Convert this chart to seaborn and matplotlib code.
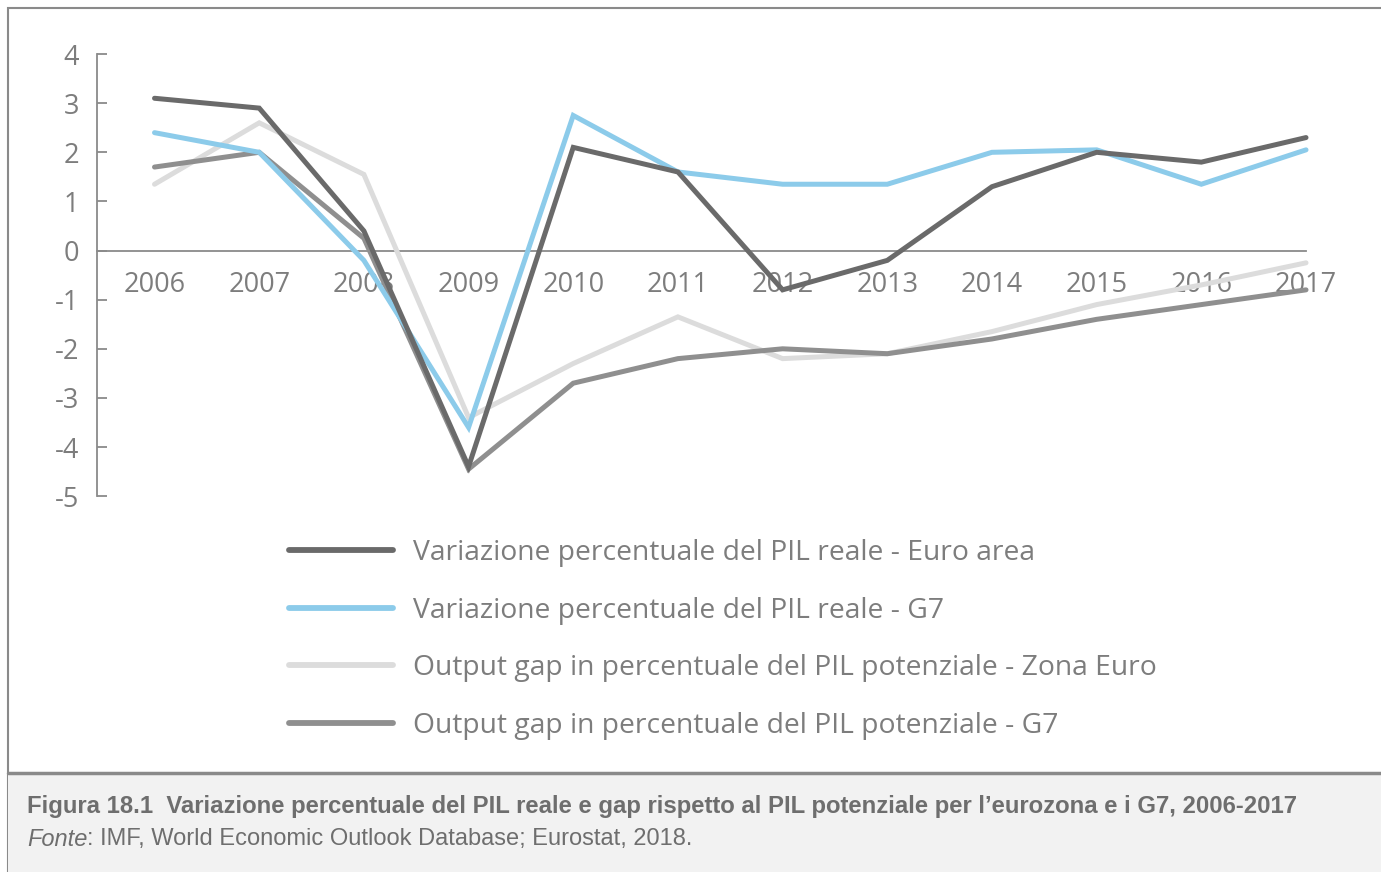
import numpy as np
import pandas as pd
import matplotlib.pyplot as plt
import seaborn as sns
from matplotlib.patches import Rectangle

years = list(range(2006, 2018))

pil_euro = [3.1, 2.9, 0.4, -4.4, 2.1, 1.6, -0.8, -0.2, 1.3, 2.0, 1.8, 2.3]
pil_g7 = [2.4, 2.0, -0.2, -3.6, 2.75, 1.6, 1.35, 1.35, 2.0, 2.05, 1.35, 2.05]
gap_euro = [1.35, 2.6, 1.55, -3.4, -2.3, -1.35, -2.2, -2.1, -1.65, -1.1, -0.7, -0.25]
gap_g7 = [1.7, 2.0, 0.25, -4.45, -2.7, -2.2, -2.0, -2.1, -1.8, -1.4, -1.1, -0.8]

labels = [
    "Variazione percentuale del PIL reale - Euro area",
    "Variazione percentuale del PIL reale - G7",
    "Output gap in percentuale del PIL potenziale - Zona Euro",
    "Output gap in percentuale del PIL potenziale - G7",
]
colors = ["#6a6a6a", "#8ccbea", "#dcdcdc", "#8f8f8f"]

caption_title = "Figura 18.1"
caption_text = "Variazione percentuale del PIL reale e gap rispetto al PIL potenziale per l\u2019eurozona e i G7, 2006-2017"
caption_source = "IMF, World Economic Outlook Database; Eurostat, 2018."

df = pd.DataFrame({
    "anno": years * 4,
    "valore": pil_euro + pil_g7 + gap_euro + gap_g7,
    "serie": [l for l in labels for _ in years],
})

sns.set_style("white")
plt.rcParams["font.family"] = ["Open Sans", "DejaVu Sans"]
plt.rcParams["axes.unicode_minus"] = False

text_col = "#7d7d7d"
fig = plt.figure(figsize=(13.81, 8.72), dpi=100)
ax = fig.add_axes([0.0702, 0.431, 0.8755, 0.507])

sns.lineplot(data=df, x="anno", y="valore", hue="serie", hue_order=labels,
             palette=colors, linewidth=3.6, ax=ax, legend=False)
# light gray below, dark on top
for line, z in zip(ax.lines, [5, 4, 2, 3]):
    line.set_zorder(z)
    line.set_clip_on(False)
    line.set_solid_joinstyle("miter")

ax.set_xlim(2005.45, 2017.0)
ax.set_ylim(-5, 4)
ax.set_xticks(years)
ax.set_yticks(range(-5, 5))
ax.set_xlabel("")
ax.set_ylabel("")

for s in ["top", "right"]:
    ax.spines[s].set_visible(False)
ax.spines["bottom"].set_position(("data", 0))
ax.spines["bottom"].set_color("#8a8a8a")
ax.spines["left"].set_color("#8a8a8a")
ax.spines["bottom"].set_linewidth(1.3)
ax.spines["left"].set_linewidth(1.3)
ax.spines["bottom"].set_zorder(1)

ax.tick_params(axis="x", direction="out", length=9, width=1.3, color="#8a8a8a",
               labelsize=19.5, labelcolor=text_col, pad=6)
ax.tick_params(axis="y", direction="in", length=7, width=1.3, color="#8a8a8a",
               labelsize=19.5, labelcolor=text_col, pad=13, left=True)

handles = [plt.Line2D([], [], color=c, linewidth=4.2) for c in colors]
leg = fig.legend(handles, labels, loc="upper left", bbox_to_anchor=(0.191, 0.411),
                 frameon=False, fontsize=20.3, handlelength=3.7, handletextpad=0.7,
                 labelspacing=1.05)
for t in leg.get_texts():
    t.set_color(text_col)

# outer frame and caption box
fig.patches.append(Rectangle((8 / 1381, 0), 1.0, 1 - 8 / 872, transform=fig.transFigure,
                             fill=False, edgecolor="#8a8a8a", linewidth=1.5, zorder=0))
fig.patches.append(Rectangle((8 / 1381, 0), 1.0, 1 - 773 / 872, transform=fig.transFigure,
                             facecolor="#f2f2f2", edgecolor="none", zorder=0))
fig.add_artist(plt.Line2D([8 / 1381, 1], [1 - 773 / 872] * 2, transform=fig.transFigure,
                          color="#8a8a8a", linewidth=2.5))

cap_font = ["Liberation Sans Narrow", "Liberation Sans", "DejaVu Sans"]
fig.text(27 / 1381, 1 - 806 / 872, caption_title + "  " + caption_text, fontsize=17.2,
         fontweight="bold", color="#6e6e6e", family=cap_font, va="center")
t1 = fig.text(27 / 1381, 1 - 839 / 872, "Fonte", fontsize=17, fontstyle="italic",
              color="#6e6e6e", family=cap_font, va="center")
fig.canvas.draw()
bb = t1.get_window_extent()
fig.text(bb.x1 / 1381, 1 - 839 / 872, ": " + caption_source, fontsize=17,
         color="#6e6e6e", family=cap_font, va="center")

fig.savefig("out.png", dpi=100)
